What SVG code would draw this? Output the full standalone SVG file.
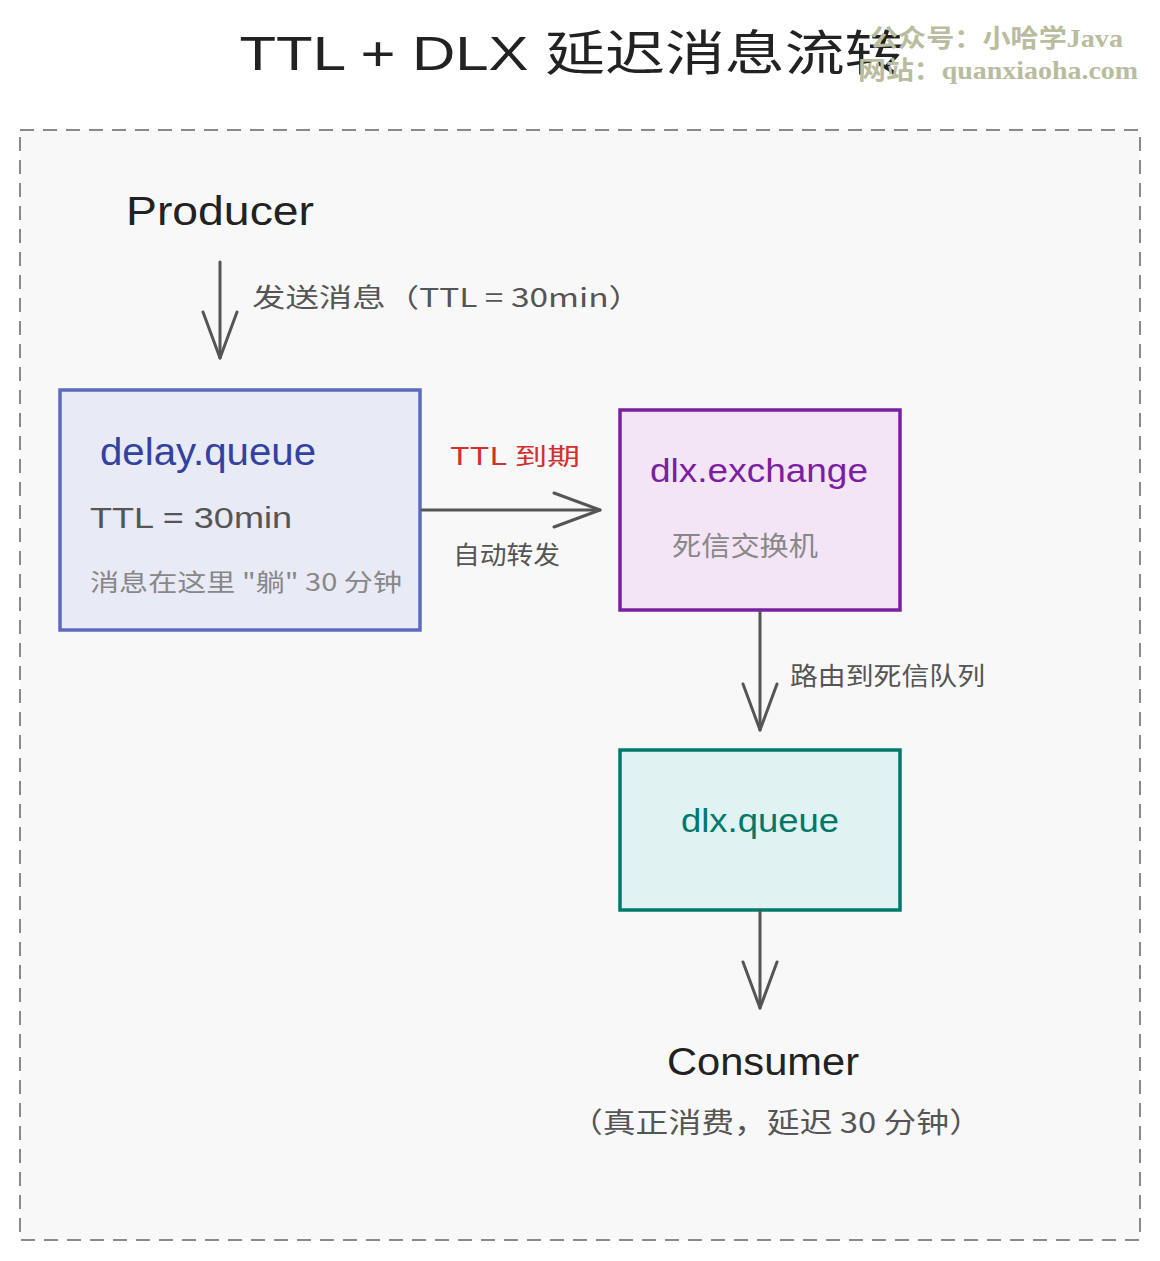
<svg xmlns="http://www.w3.org/2000/svg" width="1160" height="1261" viewBox="0 0 1160 1261">
<style>
.t{font-family:"Liberation Sans","Noto Sans CJK SC",sans-serif}
.cn{font-family:"Noto Sans CJK SC","Liberation Sans",sans-serif}
.conn{fill:none;stroke:#555;stroke-width:3;stroke-linecap:round}
.wm{font-family:"Liberation Serif","Noto Sans CJK SC",serif;font-weight:bold;fill:#b9bc9e;font-size:25px}
</style>
<defs>
<marker id="ah" viewBox="0 0 50 40" refX="48" refY="20" markerWidth="50" markerHeight="40" markerUnits="userSpaceOnUse" orient="auto">
<path d="M2,3 L48,20 L2,37" fill="none" stroke="#555" stroke-width="3" stroke-linecap="round" stroke-linejoin="round"/>
</marker>
</defs>
<rect width="1160" height="1261" fill="#ffffff"/>
<rect x="20" y="130" width="1120" height="1110" fill="#f8f8f8" stroke="#8a8a8a" stroke-width="2" stroke-dasharray="14 9"/>
<text class="t" x="572" y="70" text-anchor="middle" font-size="48" fill="#222" textLength="665" lengthAdjust="spacingAndGlyphs">TTL + DLX 延迟消息流转</text>

<g id="producer">
<text class="t" x="220" y="225" text-anchor="middle" font-size="41" fill="#222" textLength="188" lengthAdjust="spacingAndGlyphs">Producer</text>
</g>

<g id="delay-queue">
<rect x="60" y="390" width="360" height="240" fill="#e8eaf6" stroke="#5c6bc0" stroke-width="3.5"/>
<text class="t" x="100" y="465" font-size="38" fill="#3341a0" textLength="216" lengthAdjust="spacingAndGlyphs">delay.queue</text>
<text class="t" x="90" y="528" font-size="29" fill="#555" textLength="202" lengthAdjust="spacingAndGlyphs">TTL = 30min</text>
<text class="cn" x="90" y="591" font-size="24" fill="#888" textLength="312" lengthAdjust="spacingAndGlyphs">消息在这里 "躺" 30 分钟</text>
</g>

<g id="dlx-exchange">
<rect x="620" y="410" width="280" height="200" fill="#f3e5f5" stroke="#7b1fa2" stroke-width="3.5"/>
<text class="t" x="650" y="482" font-size="34" fill="#7b1fa2" textLength="218" lengthAdjust="spacingAndGlyphs">dlx.exchange</text>
<text class="cn" x="672" y="556" font-size="27" fill="#888" textLength="146" lengthAdjust="spacingAndGlyphs">死信交换机</text>
</g>

<g id="dlx-queue">
<rect x="620" y="750" width="280" height="160" fill="#e0f2f1" stroke="#00796b" stroke-width="3.5"/>
<text class="t" x="760" y="832" text-anchor="middle" font-size="34" fill="#00796b" textLength="158" lengthAdjust="spacingAndGlyphs">dlx.queue</text>
</g>

<g id="consumer">
<text class="t" x="763" y="1075" text-anchor="middle" font-size="38" fill="#222" textLength="192" lengthAdjust="spacingAndGlyphs">Consumer</text>
<text class="cn" x="776" y="1133" text-anchor="middle" font-size="28" fill="#555" textLength="412" lengthAdjust="spacingAndGlyphs">（真正消费，延迟 30 分钟）</text>
</g>

<g id="connectors">
<line class="conn" x1="220" y1="262" x2="220" y2="358" marker-end="url(#ah)"/>
<text class="cn" x="252" y="307" font-size="26" fill="#555" textLength="390" lengthAdjust="spacingAndGlyphs">发送消息（TTL = 30min）</text>
<line class="conn" x1="422" y1="510" x2="600" y2="510" marker-end="url(#ah)"/>
<text class="cn" x="450" y="465" font-size="24" fill="#d32f2f" textLength="130" lengthAdjust="spacingAndGlyphs">TTL 到期</text>
<text class="cn" x="453" y="564" font-size="25" fill="#555" textLength="107" lengthAdjust="spacingAndGlyphs">自动转发</text>
<line class="conn" x1="760" y1="612" x2="760" y2="730" marker-end="url(#ah)"/>
<text class="cn" x="790" y="685" font-size="25" fill="#555" textLength="195" lengthAdjust="spacingAndGlyphs">路由到死信队列</text>
<line class="conn" x1="760" y1="912" x2="760" y2="1008" marker-end="url(#ah)"/>
</g>

<text class="wm" x="870" y="47" textLength="253" lengthAdjust="spacingAndGlyphs">公众号：小哈学Java</text>
<text class="wm" x="858" y="79" textLength="280" lengthAdjust="spacingAndGlyphs">网站：quanxiaoha.com</text>
</svg>
